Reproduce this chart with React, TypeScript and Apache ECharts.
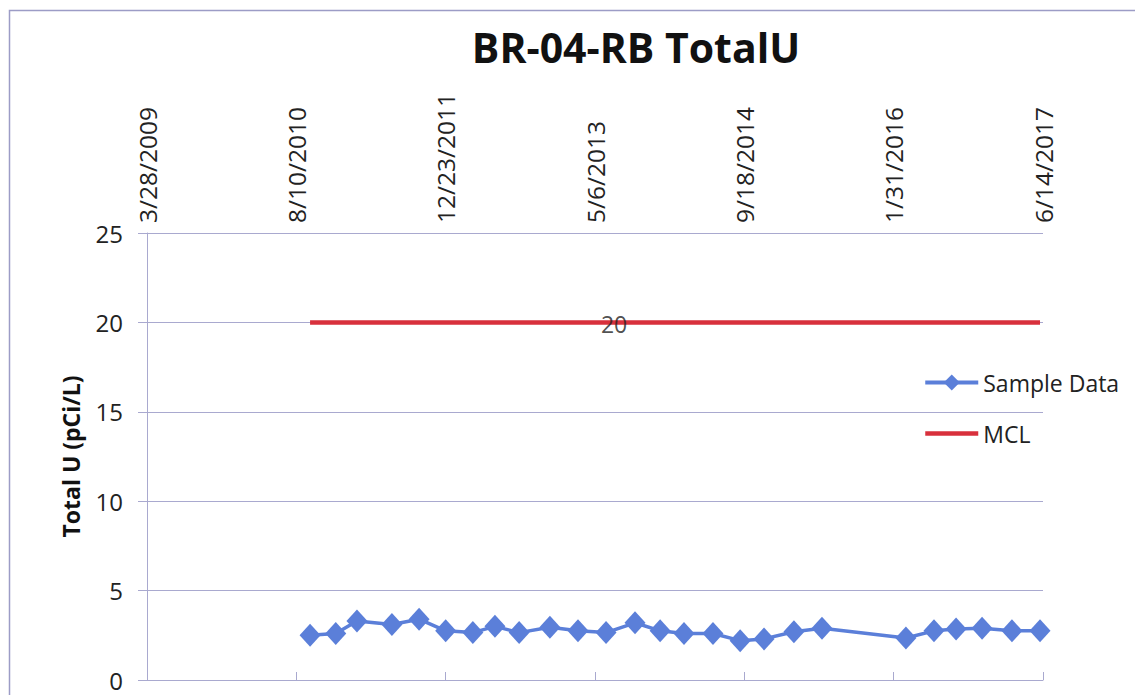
import React, { useEffect, useRef } from "react";
import * as echarts from "echarts";

// ---- Data ----
const startDate = "2009-03-28"; // first axis tick
const endDate = "2017-06-14"; // last axis tick
const tickStepDays = 500;

const sampleDates = [
  "2010-09-25", "2010-12-20", "2011-03-01", "2011-06-26", "2011-09-25",
  "2011-12-23", "2012-03-23", "2012-06-05", "2012-08-25", "2012-12-06",
  "2013-03-10", "2013-06-12", "2013-09-17", "2013-12-10", "2014-02-28",
  "2014-06-05", "2014-09-04", "2014-11-23", "2015-03-03", "2015-06-05",
  "2016-03-12", "2016-06-14", "2016-08-27", "2016-11-22", "2017-03-02",
  "2017-06-04",
];
const sampleValues = [
  2.5, 2.6, 3.3, 3.1, 3.4,
  2.75, 2.65, 3.0, 2.65, 2.95,
  2.75, 2.65, 3.2, 2.75, 2.6,
  2.6, 2.2, 2.3, 2.7, 2.9,
  2.35, 2.75, 2.85, 2.9, 2.75,
  2.75,
];
const mclValue = 20;
const mclLabelDate = "2013-06-12";

const yTicks = [0, 5, 10, 15, 20, 25];

const DAY = 86400000;
const toMs = (s: string) => {
  const [y, m, d] = s.split("-").map(Number);
  return Date.UTC(y, m - 1, d);
};
const origin = toMs(startDate);
const toDay = (s: string) => Math.round((toMs(s) - origin) / DAY);
const fmtDay = (v: number) => {
  const dt = new Date(origin + v * DAY);
  return `${dt.getUTCMonth() + 1}/${dt.getUTCDate()}/${dt.getUTCFullYear()}`;
};

const FONT = "Open Sans";
const GRID_COLOR = "#a9a9cf";
const BLUE = "#5b7fd9";
const RED = "#d8303c";

export default function App() {
  const ref = useRef<HTMLDivElement>(null);
  useEffect(() => {
    if (!ref.current) return;
    const chart = echarts.init(ref.current, null, { renderer: "svg" });
    const sample = sampleDates.map((d, i) => [toDay(d), sampleValues[i]]);
    const mcl = sampleDates.map((d) => [toDay(d), mclValue]);
    chart.setOption({
      animation: false,
      backgroundColor: "#ffffff",
      title: {
        text: "BR-04-RB TotalU",
        left: 631,
        top: 21,
        textAlign: "center",
        textStyle: {
          fontFamily: FONT,
          fontWeight: "bold",
          fontSize: 41,
          color: "#111",
        },
      },
      graphic: [
        {
          type: "rect",
          shape: { x: 9.5, y: 10.5, width: 1140, height: 700 },
          style: { fill: "none", stroke: "#9c9cc6", lineWidth: 1.5 },
          silent: true,
        },
      ],
      legend: {
        orient: "vertical",
        left: 918,
        top: 366,
        itemWidth: 53,
        itemHeight: 20,
        itemGap: 28,
        textStyle: { fontFamily: FONT, fontSize: 23, color: "#222" },
        data: [
          { name: "Sample Data", lineStyle: { width: 4 } },
          { name: "MCL", lineStyle: { width: 4.5 }, itemStyle: { opacity: 0 } },
        ],
      },
      grid: { left: 147, right: 92, top: 233, bottom: 15, containLabel: false },
      xAxis: {
        type: "value",
        position: "top",
        min: 0,
        max: toDay(endDate),
        interval: tickStepDays,
        axisLine: { show: true, lineStyle: { color: GRID_COLOR, width: 1 } },
        axisTick: { show: true, length: 8, lineStyle: { color: GRID_COLOR } },
        splitLine: { show: false },
        axisLabel: {
          rotate: 90,
          margin: 10,
          fontFamily: FONT,
          fontSize: 24.5,
          color: "#222",
          showMinLabel: true,
          showMaxLabel: true,
          formatter: (v: number) => fmtDay(v),
        },
      },
      yAxis: {
        type: "value",
        min: yTicks[0],
        max: yTicks[yTicks.length - 1],
        interval: yTicks[1] - yTicks[0],
        name: "Total U (pCi/L)",
        nameLocation: "middle",
        nameGap: 65,
        nameTextStyle: {
          fontFamily: FONT,
          fontWeight: "bold",
          fontSize: 23,
          color: "#111",
        },
        axisLine: { show: true, lineStyle: { color: GRID_COLOR, width: 1 } },
        axisTick: { show: true, length: 9, lineStyle: { color: GRID_COLOR } },
        splitLine: { show: true, lineStyle: { color: GRID_COLOR, width: 1 } },
        axisLabel: {
          margin: 24,
          fontFamily: FONT,
          fontSize: 24,
          color: "#222",
        },
      },
      series: [
        {
          name: "Sample Data",
          type: "line",
          data: sample,
          symbol: "diamond",
          symbolSize: [21, 23],
          lineStyle: { color: BLUE, width: 3.5 },
          itemStyle: { color: BLUE },
          z: 3,
        },
        {
          name: "MCL",
          type: "line",
          data: mcl,
          symbol: "none",
          lineStyle: { color: RED, width: 4.5 },
          itemStyle: { color: RED },
          z: 2,
        },
        {
          name: "MCL label",
          type: "scatter",
          data: [[toDay(mclLabelDate), mclValue]],
          symbolSize: 1,
          itemStyle: { color: "rgba(0,0,0,0)" },
          label: {
            show: true,
            position: "inside",
            offset: [8, 2],
            formatter: (p: any) => String(p.value[1]),
            fontFamily: FONT,
            fontSize: 23,
            color: "#222",
          },
          z: 4,
        },
      ],
    });
    return () => chart.dispose();
  }, []);
  return (
    <div
      ref={ref}
      style={{ position: "absolute", left: 0, top: 0, width: 1135, height: 695 }}
    />
  );
}
